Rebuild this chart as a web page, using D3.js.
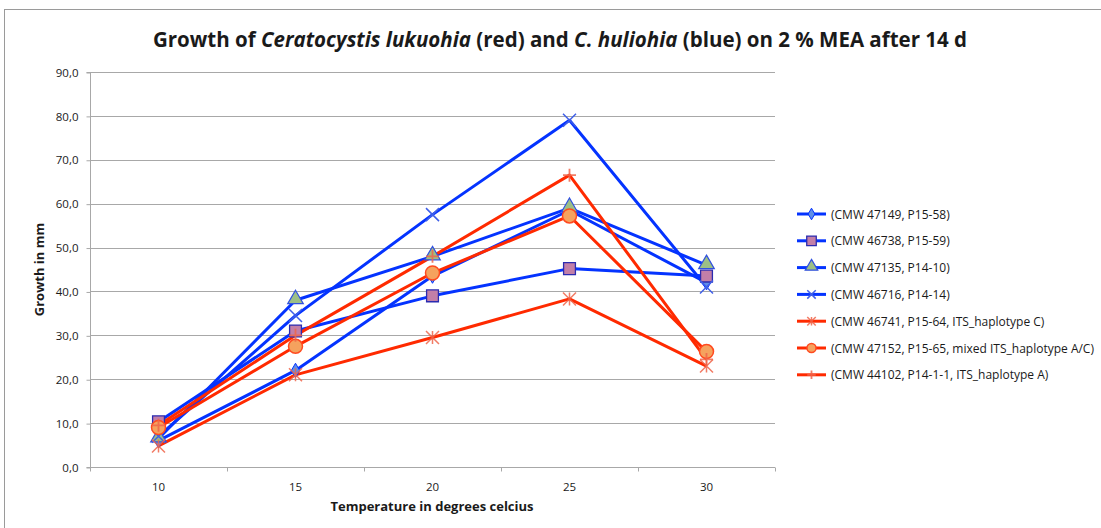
<!doctype html>
<html>
<head>
<meta charset="UTF-8">
<title>growth</title>
<script src="https://d3js.org/d3.v7.min.js"></script>
<style>
  body { margin:0; background:#fff; }
  text { font-family: "Open Sans", sans-serif; fill:#1a1a1a; }
</style>
</head>
<body>
<script>
// data
var temps = ["10", "15", "20", "25", "30"];
var yTicks = [0, 10, 20, 30, 40, 50, 60, 70, 80, 90];
var names = [
  "(CMW 47149, P15-58)",
  "(CMW 46738, P15-59)",
  "(CMW 47135, P14-10)",
  "(CMW 46716, P14-14)",
  "(CMW 46741, P15-64, ITS_haplotype C)",
  "(CMW 47152, P15-65, mixed ITS_haplotype A/C)",
  "(CMW 44102, P14-1-1, ITS_haplotype A)"
];
var cmw47149 = [6.0, 22.0, 43.5, 58.5, 42.0];
var cmw46738 = [10.3, 31.0, 39.0, 45.2, 43.5];
var cmw47135 = [6.5, 38.0, 48.0, 59.0, 46.0];
var cmw46716 = [7.0, 34.5, 57.5, 79.0, 41.0];
var cmw46741 = [4.8, 21.0, 29.5, 38.3, 23.0];
var cmw47152 = [9.0, 27.5, 44.2, 57.2, 26.3];
var cmw44102 = [9.5, 30.0, 48.0, 66.5, 24.5];

var blue = "#0433ff", red = "#ff2a00";
var series = [
  {name:names[0], values:cmw47149, color:blue, marker:"diamond"},
  {name:names[1], values:cmw46738, color:blue, marker:"square"},
  {name:names[2], values:cmw47135, color:blue, marker:"triangle"},
  {name:names[3], values:cmw46716, color:blue, marker:"x"},
  {name:names[4], values:cmw46741, color:red, marker:"asterisk"},
  {name:names[5], values:cmw47152, color:red, marker:"circle"},
  {name:names[6], values:cmw44102, color:red, marker:"plus"}
];

var W = 1101, H = 528;
var pLeft = 90, pRight = 775, pTop = 72, pBottom = 467;

var svg = d3.select("body").append("svg").attr("width", W).attr("height", H);

// chart frame
svg.append("rect").attr("x", 4.5).attr("y", 9.5).attr("width", W + 10).attr("height", H + 10)
  .attr("fill", "none").attr("stroke", "#9a9a9a").attr("stroke-width", 1);

var x = d3.scalePoint().domain(temps).range([pLeft, pRight]).padding(0.5);
var y = d3.scaleLinear().domain([0, 90]).range([pBottom, pTop]);

// gridlines
svg.append("g").selectAll("line").data(yTicks).enter().append("line")
  .attr("x1", pLeft).attr("x2", pRight)
  .attr("y1", function(d){ return Math.round(y(d)) + 0.5; })
  .attr("y2", function(d){ return Math.round(y(d)) + 0.5; })
  .attr("stroke", "#a8a8a8").attr("stroke-width", 1);

// y axis
var yAxis = svg.append("g").attr("transform", "translate(" + (pLeft + 0.5) + ",0.5)")
  .call(d3.axisLeft(y).tickValues(yTicks).tickSize(4).tickPadding(8)
    .tickFormat(function(d){ return d3.format(".1f")(d).replace(".", ","); }));
yAxis.selectAll("path, line").attr("stroke", "#a8a8a8");
yAxis.select("path").attr("d", "M-4," + y(90) + "H0V" + y(0) + "H-4");
yAxis.selectAll("text").style("font-size", "11.5px").style("font-family", "Open Sans, sans-serif").attr("fill", "#222");

// x axis: ticks between categories
var step = x.step();
var xAxis = svg.append("g").attr("transform", "translate(0," + (pBottom + 0.5) + ")");
xAxis.append("line").attr("x1", pLeft).attr("x2", pRight).attr("stroke", "#a8a8a8");
xAxis.selectAll("line.tk").data(d3.range(temps.length + 1)).enter().append("line")
  .attr("class", "tk")
  .attr("x1", function(i){ return pLeft + i * step + 0.5; })
  .attr("x2", function(i){ return pLeft + i * step + 0.5; })
  .attr("y1", 0).attr("y2", 4).attr("stroke", "#a8a8a8");
xAxis.selectAll("text").data(temps).enter().append("text")
  .attr("x", function(d){ return x(d); }).attr("y", 23)
  .attr("text-anchor", "middle").style("font-size", "11.5px").text(function(d){ return d; });

// titles
var title = svg.append("text").attr("x", 560).attr("y", 47).attr("text-anchor", "middle")
  .style("font-size", "20.5px").style("font-weight", "bold");
title.append("tspan").text("Growth of ");
title.append("tspan").style("font-style", "italic").text("Ceratocystis lukuohia");
title.append("tspan").text(" (red) and ");
title.append("tspan").style("font-style", "italic").text("C. huliohia");
title.append("tspan").text(" (blue) on 2 % MEA after 14 d");

svg.append("text").attr("x", 432).attr("y", 511).attr("text-anchor", "middle")
  .style("font-size", "13px").style("font-weight", "bold").text("Temperature in degrees celcius");
svg.append("text").attr("transform", "translate(44," + ((pTop + pBottom) / 2) + ") rotate(-90)")
  .attr("text-anchor", "middle").style("font-size", "13px").style("font-weight", "bold")
  .text("Growth in mm");

// marker drawing
function drawMarker(g, type, color, s) {
  s = s || 1;
  if (type === "diamond") {
    g.append("path").attr("d", d3.symbol().type(d3.symbolDiamond).size(60 * s)())
      .attr("fill", "#5f8fe8").attr("stroke", blue).attr("stroke-width", 1);
  } else if (type === "square") {
    g.append("path").attr("d", d3.symbol().type(d3.symbolSquare).size(140 * s)())
      .attr("fill", "#c27fa8").attr("stroke", "#2b2bb0").attr("stroke-width", 1.3);
  } else if (type === "triangle") {
    g.append("path").attr("d", d3.symbol().type(d3.symbolTriangle).size(105 * s)())
      .attr("transform", "translate(0,-1)")
      .attr("fill", "#9cbf86").attr("stroke", "#3050e0").attr("stroke-width", 1.2);
  } else if (type === "x") {
    var r = 6.5 * s;
    g.append("path").attr("d", "M" + (-r) + "," + (-r) + "L" + r + "," + r + "M" + (-r) + "," + r + "L" + r + "," + (-r))
      .attr("stroke", "#4060e8").attr("stroke-width", 1.5).attr("fill", "none");
  } else if (type === "asterisk") {
    var a = 6.5 * s;
    g.append("path").attr("d", "M" + (-a) + "," + (-a) + "L" + a + "," + a + "M" + (-a) + "," + a + "L" + a + "," + (-a) + "M0," + (-a) + "L0," + a)
      .attr("stroke", "#f0654a").attr("stroke-width", 1.5).attr("fill", "none").attr("opacity", 0.85);
  } else if (type === "circle") {
    g.append("circle").attr("r", 7 * s)
      .attr("fill", "#f5a25e").attr("stroke", "#ff4a20").attr("stroke-width", 1.5);
  } else if (type === "plus") {
    var p = 6.5 * s;
    g.append("path").attr("d", "M" + (-p) + ",0L" + p + ",0M0," + (-p) + "L0," + p)
      .attr("stroke", "#f0654a").attr("stroke-width", 1.8).attr("fill", "none").attr("opacity", 0.85);
  }
}

var line = d3.line().x(function(d, i){ return x(temps[i]); }).y(function(d){ return y(d); });

var plot = svg.append("g");
series.forEach(function(s){
  plot.append("path").datum(s.values).attr("d", line)
    .attr("fill", "none").attr("stroke", s.color).attr("stroke-width", 3)
    .attr("stroke-linejoin", "round");
});
series.forEach(function(s){
  s.values.forEach(function(v, i){
    var g = plot.append("g").attr("transform", "translate(" + x(temps[i]) + "," + y(v) + ")");
    drawMarker(g, s.marker, s.color, 1);
  });
});

// legend
var legend = svg.append("g");
series.forEach(function(s, i){
  var ly = 214 + i * 26.8;
  var g = legend.append("g").attr("transform", "translate(0," + ly + ")");
  g.append("line").attr("x1", 797).attr("x2", 826).attr("y1", 0).attr("y2", 0)
    .attr("stroke", s.color).attr("stroke-width", 3);
  var m = g.append("g").attr("transform", "translate(811.5,0)");
  drawMarker(m, s.marker, s.color, 0.65);
  g.append("text").attr("x", 831).attr("y", 4.5).style("font-size", "12px").text(s.name);
});
</script>
</body>
</html>
